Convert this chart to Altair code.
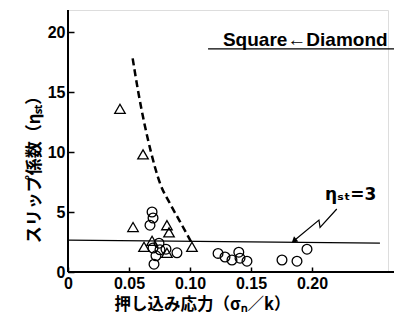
import altair as alt
import pandas as pd

# ---- data ----
tri_x = [0.0426, 0.0615, 0.0533, 0.0811, 0.0828, 0.1016, 0.0623, 0.0689, 0.0811]
tri_y = [13.6, 9.8, 3.75, 3.9, 3.3, 2.1, 2.1, 2.6, 1.6]

circ_x = [0.0689, 0.0697, 0.0672, 0.0746, 0.0697, 0.0754, 0.0803, 0.0893, 0.0721, 0.0705,
          0.1230, 0.1287, 0.1344, 0.1400, 0.1410, 0.1467, 0.1754, 0.1877, 0.1959]
circ_y = [5.0, 4.5, 3.9, 2.4, 2.0, 1.85, 1.9, 1.6, 1.35, 0.65,
          1.55, 1.25, 1.0, 1.65, 1.15, 0.9, 1.0, 0.9, 1.9]

curve_x = [0.053, 0.0576, 0.068, 0.0754, 0.0836, 0.0918, 0.101]
curve_y = [17.8, 15.0, 10.0, 7.4, 5.7, 4.2, 2.5]

ref_x = [0.0, 0.2557]
ref_y = [2.65, 2.4]

arrow_x = [0.2203, 0.2066, 0.2057, 0.1852]
arrow_y = [5.25, 3.72, 4.33, 2.6]

x_ticks = [0, 0.05, 0.10, 0.15, 0.20]
y_ticks = [0, 5, 10, 15, 20]

W, H = 320, 262
XMAX = W / 1220.0
YMAX = H / 12.0

xs = alt.Scale(domain=[0, XMAX], nice=False, zero=False)
ys = alt.Scale(domain=[0, YMAX], nice=False, zero=False)

LABEL_FONT = "Liberation Sans"
JP_FONT = "Noto Sans CJK JP"

x_axis = alt.Axis(values=x_ticks, labelExpr="datum.value == 0 ? '0' : format(datum.value, '.2f')",
                  offset=-5, tickSize=5, domain=False, grid=False, labelPadding=3,
                  labelFont=LABEL_FONT, labelFontSize=16, labelFontWeight="bold", labelColor="black",
                  tickColor="black", tickWidth=1.5, labelFlush=False,
                  title="押し込み応力（σₙ／k）", titleFont=JP_FONT, titleFontSize=16.5,
                  titleFontWeight="bold", titleColor="black", titleX=134, titleY=37,
                  titleAnchor="middle", titleAlign="center", titleBaseline="middle")
y_axis = alt.Axis(values=y_ticks, offset=-6, tickSize=6, domain=False, grid=False, labelPadding=3,
                  labelFont=LABEL_FONT, labelFontSize=16, labelFontWeight="bold", labelColor="black",
                  tickColor="black", tickWidth=1.5,
                  title="スリップ係数（ηₛₜ）", titleFont=JP_FONT, titleFontSize=17,
                  titleFontWeight="bold", titleColor="black", titleX=-40, titleY=155,
                  titleAngle=-90, titleAlign="center", titleBaseline="middle")


def X(field="x"):
    return alt.X(f"{field}:Q", scale=xs, axis=x_axis)


def Y(field="y"):
    return alt.Y(f"{field}:Q", scale=ys, axis=y_axis)


tri_df = pd.DataFrame({"x": tri_x, "y": tri_y})
circ_df = pd.DataFrame({"x": circ_x, "y": circ_y})
curve_df = pd.DataFrame({"x": curve_x, "y": curve_y})
ref_df = pd.DataFrame({"x": ref_x, "y": ref_y})
arrow_df = pd.DataFrame({"x": arrow_x, "y": arrow_y, "o": list(range(len(arrow_x)))})

tri = alt.Chart(tri_df).mark_point(shape="triangle-up", size=110, filled=False, color="black",
                                   strokeWidth=1.3, opacity=1).encode(x=X(), y=Y())
circ = alt.Chart(circ_df).mark_point(shape="circle", size=95, filled=False, color="black",
                                     strokeWidth=1.3, opacity=1).encode(x=X(), y=Y())
curve = alt.Chart(curve_df).mark_line(color="black", strokeWidth=2.5, strokeDash=[7, 4],
                                      interpolate="monotone").encode(x=X(), y=Y())
ref = alt.Chart(ref_df).mark_line(color="black", strokeWidth=1.3).encode(x=X(), y=Y())
arrow = alt.Chart(arrow_df).mark_line(color="black", strokeWidth=1.2).encode(
    x=X(), y=Y(), order="o:Q")
head = alt.Chart(pd.DataFrame({"x": [arrow_x[-1]], "y": [arrow_y[-1]]})).mark_point(
    shape="triangle-up", filled=True, color="black", size=45, angle=230, opacity=1
).encode(x=X(), y=Y())

axis_df = pd.DataFrame({"x": [0.0], "y": [0.0]})
x_line = alt.Chart(axis_df).mark_rule(color="black", strokeWidth=2).encode(
    x=X(), x2=alt.value(W + 6), y=Y())
y_line = alt.Chart(axis_df).mark_rule(color="black", strokeWidth=2).encode(
    x=X(), y=Y(), y2=alt.value(0))

legend_txt = alt.Chart(pd.DataFrame({"x": [0.1945], "y": [19.3], "t": ["Square←Diamond"]})).mark_text(
    font=LABEL_FONT, fontSize=19, fontWeight="bold", color="black", align="center", baseline="middle"
).encode(x=X(), y=Y(), text="t:N")
legend_line = alt.Chart(pd.DataFrame({"x": [0.1148], "y": [18.6]})).mark_rule(
    color="black", strokeWidth=1.2).encode(x=X(), x2=alt.value(W + 6), y=Y())

eta_txt = alt.Chart(pd.DataFrame({"x": [0.2107], "y": [6.0], "t": ["ηₛₜ=3"]})).mark_text(
    font="DejaVu Sans", fontSize=17, fontWeight="bold", color="black", align="left", baseline="alphabetic"
).encode(x=X(), y=Y(), text="t:N")

chart = alt.layer(ref, curve, arrow, head, tri, circ, x_line, y_line, legend_line, legend_txt, eta_txt).properties(
    width=W, height=H,
    autosize=alt.AutoSizeParams(type="none"),
    padding={"left": 60, "top": 2, "right": 6, "bottom": 41},
).configure_view(stroke=None).configure(background="white")

chart.save("out.html", embed_options={"renderer": "svg", "actions": False})
